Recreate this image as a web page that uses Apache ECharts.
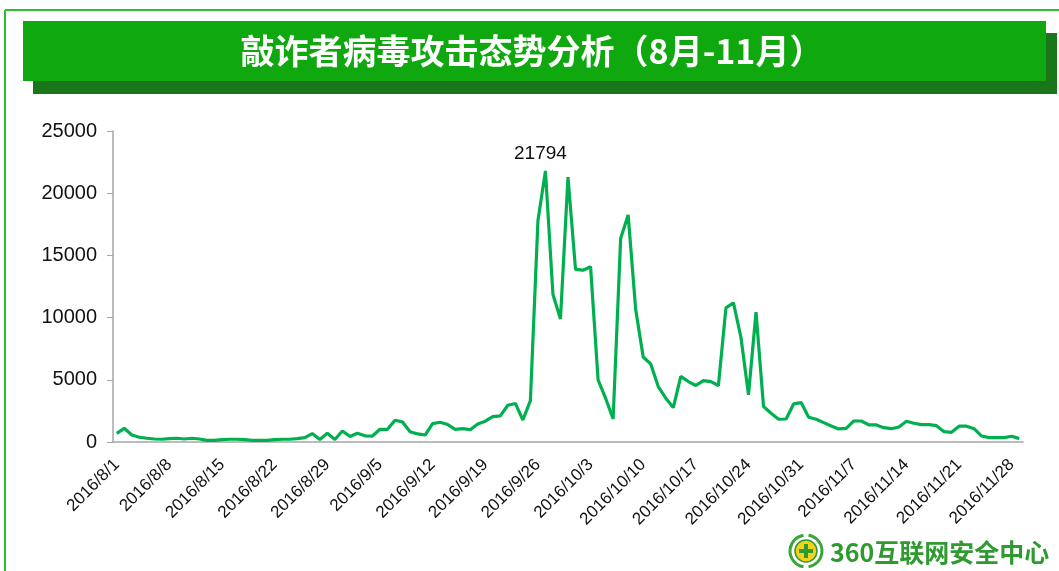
<!DOCTYPE html>
<html>
<head>
<meta charset="utf-8">
<script src="https://cdn.jsdelivr.net/npm/echarts@6/dist/echarts.min.js"></script>
<style>
  html, body { margin: 0; padding: 0; background: #fff; }
  #chartArea { width: 1059px; height: 571px; }
</style>
</head>
<body>
<div id="chartArea"></div>
<script>
// 标题
const titleText = '敲诈者病毒攻击态势分析（8月-11月）';
const logoText = '360互联网安全中心';

// x 轴: 2016/8/1 ~ 2016/11/29, 每天一个点
const startDate = [2016, 8, 1];
const dayCount = 121;

// 每日攻击量
const attackValues = [
  700, 1100, 560, 380, 300, 240, 220, 270, 300, 240,
  300, 240, 130, 130, 190, 220, 220, 190, 130, 130,
  130, 190, 220, 220, 270, 350, 680, 200, 700, 200,
  880, 450, 700, 500, 480, 1020, 1020, 1750, 1610, 830,
  650, 560, 1480, 1590, 1400, 1020, 1070, 990, 1450, 1670,
  2040, 2100, 2950, 3100, 1770, 3330, 17760, 21794, 11850, 9890,
  21300, 13870, 13810, 14090, 5000, 3520, 1850, 16350, 18250, 10650,
  6830, 6270, 4460, 3520, 2770, 5270, 4860, 4540, 4940, 4860,
  4540, 10780, 11180, 8400, 3790, 10430, 2850, 2310, 1830, 1850,
  3060, 3170, 1990, 1830, 1560, 1290, 1050, 1100, 1690, 1690,
  1370, 1370, 1150, 1070, 1210, 1670, 1510, 1400, 1400, 1310,
  830, 780, 1270, 1270, 1070, 480, 350, 350, 350, 460,
  270
];

// y 轴刻度
const yTicks = [0, 5000, 10000, 15000, 20000, 25000];

function buildDates() {
  let out = [];
  let d = new Date(startDate[0], startDate[1] - 1, startDate[2]);
  for (let i = 0; i < dayCount; i++) {
    out.push(d.getFullYear() + '/' + (d.getMonth() + 1) + '/' + d.getDate());
    d.setDate(d.getDate() + 1);
  }
  return out;
}
const dateLabels = buildDates();

// 最大值只标一个
let maxIdx = 0;
attackValues.forEach((v, i) => { if (v > attackValues[maxIdx]) maxIdx = i; });
const seriesData = attackValues.map((v, i) => i === maxIdx
  ? { value: v, label: { show: true, position: 'top', distance: 8, offset: [-5, 0], color: '#111', fontSize: 19, fontFamily: 'Liberation Sans' } }
  : v);

const chartDom = document.getElementById('chartArea');
let myChart = echarts.init(chartDom, null, { renderer: 'canvas' });
let option;

option = {
  animation: false,
  backgroundColor: '#fff',
  grid: { left: 113, right: 36, top: 131, bottom: 129 },
  xAxis: {
    type: 'category',
    data: dateLabels,
    boundaryGap: true,
    axisLine: { lineStyle: { color: '#a6a6a6', width: 1.5 } },
    axisTick: { show: false },
    axisLabel: {
      interval: 6,
      rotate: 45,
      margin: 20,
      color: '#111',
      fontSize: 17,
      fontFamily: 'Liberation Sans'
    },
    splitLine: { show: false }
  },
  yAxis: {
    type: 'value',
    min: yTicks[0],
    max: yTicks[yTicks.length - 1],
    interval: yTicks[1] - yTicks[0],
    axisLine: { show: true, lineStyle: { color: '#a6a6a6', width: 1.5 } },
    axisTick: { show: true, length: 6, lineStyle: { color: '#a6a6a6' } },
    axisLabel: {
      color: '#111', fontSize: 20, margin: 16, fontFamily: 'Liberation Sans',
      formatter: (v) => String(v)
    },
    splitLine: { show: false }
  },
  series: [{
    type: 'line',
    data: seriesData,
    showSymbol: true,
    symbol: 'circle',
    symbolSize: 0,
    lineStyle: { color: '#00b050', width: 3.2 },
    itemStyle: { color: '#00b050' }
  }],
  graphic: [
    // 外框
    { type: 'line', shape: { x1: 5, y1: 10, x2: 1059, y2: 10 }, style: { stroke: '#2cc02c', lineWidth: 2 } },
    { type: 'line', shape: { x1: 5, y1: 10, x2: 5, y2: 571 }, style: { stroke: '#2cc02c', lineWidth: 2 } },
    // 标题条
    { type: 'rect', shape: { x: 33, y: 33, width: 1024, height: 61 }, style: { fill: '#197619' } },
    { type: 'rect', shape: { x: 23, y: 21, width: 1023, height: 60 }, style: { fill: '#0fa90f' } },
    {
      type: 'text', x: 532, y: 51,
      style: {
        text: titleText, fill: '#fff', align: 'center', verticalAlign: 'middle',
        font: 'bold 34px "Noto Sans CJK SC", sans-serif'
      }
    },
    // logo
    {
      type: 'group', x: 806, y: 551,
      children: [
        { type: 'arc', shape: { cx: 0, cy: 0, r: 16, startAngle: Math.PI * 0.55, endAngle: Math.PI * 1.45 }, style: { stroke: '#3aa63a', lineWidth: 3, fill: null } },
        { type: 'arc', shape: { cx: 0, cy: 0, r: 16, startAngle: -Math.PI * 0.45, endAngle: Math.PI * 0.45 }, style: { stroke: '#3aa63a', lineWidth: 3, fill: null } },
        { type: 'circle', shape: { cx: 0, cy: 0, r: 11 }, style: { fill: '#f2d21c', stroke: '#2f9a2f', lineWidth: 1.5 } },
        { type: 'rect', shape: { x: -2, y: -7, width: 4, height: 14 }, style: { fill: '#2f9a2f' } },
        { type: 'rect', shape: { x: -7, y: -2, width: 14, height: 4 }, style: { fill: '#2f9a2f' } }
      ]
    },
    {
      type: 'text', x: 830, y: 552,
      style: {
        text: logoText, fill: '#2f9a2f', align: 'left', verticalAlign: 'middle',
        font: 'bold 25px "Noto Sans CJK SC", sans-serif'
      }
    }
  ]
};

option && myChart.setOption(option);
</script>
</body>
</html>
